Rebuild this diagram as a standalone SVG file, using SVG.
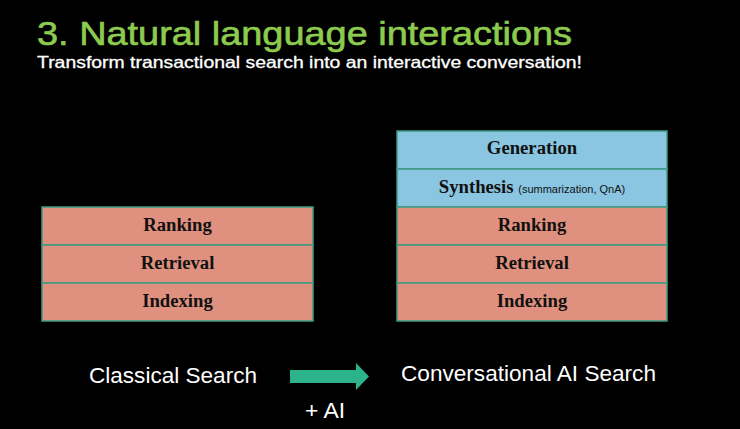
<svg xmlns="http://www.w3.org/2000/svg" width="740" height="429" viewBox="0 0 740 429">
<style>
.bg{fill:#000}
.red{fill:#E0907E;stroke:#3D9A85;stroke-width:1.5}
.blue{fill:#8AC5E2;stroke:#3D9A85;stroke-width:1.5}
.lbl{font-family:"Liberation Serif",serif;font-weight:bold;font-size:18.7px;fill:#111;text-anchor:middle}
.small{font-family:"Liberation Sans",sans-serif;font-weight:normal;font-size:11px}
.cap{font-family:"Liberation Sans",Arial,sans-serif;font-size:22.5px;fill:#fff}
</style>
<rect class="bg" x="0" y="0" width="740" height="429"/>
<text x="37" y="45" font-family="Liberation Sans, Arial, sans-serif" font-size="33" fill="#8DCB4F" stroke="#8DCB4F" stroke-width="0.6" textLength="535" lengthAdjust="spacingAndGlyphs">3. Natural language interactions</text>
<text x="37" y="68" font-family="Liberation Sans, Arial, sans-serif" font-size="16.5" fill="#fff" stroke="#fff" stroke-width="0.3" textLength="545" lengthAdjust="spacingAndGlyphs">Transform transactional search into an interactive conversation!</text>
<g id="classical">
<rect class="red" x="42" y="207" width="271" height="38"/>
<rect class="red" x="42" y="245" width="271" height="38"/>
<rect class="red" x="42" y="283" width="271" height="38"/>
<text class="lbl" x="177.5" y="231">Ranking</text>
<text class="lbl" x="177.5" y="269">Retrieval</text>
<text class="lbl" x="177.5" y="307">Indexing</text>
</g>
<g id="conversational">
<rect class="blue" x="397" y="131" width="270" height="38"/>
<rect class="blue" x="397" y="169" width="270" height="38"/>
<rect class="red" x="397" y="207" width="270" height="38"/>
<rect class="red" x="397" y="245" width="270" height="38"/>
<rect class="red" x="397" y="283" width="270" height="38"/>
<text class="lbl" x="532" y="154">Generation</text>
<text class="lbl" x="532" y="193">Synthesis <tspan class="small">(summarization, QnA)</tspan></text>
<text class="lbl" x="532" y="231">Ranking</text>
<text class="lbl" x="532" y="269">Retrieval</text>
<text class="lbl" x="532" y="307">Indexing</text>
</g>
<g id="connectors">
<polygon points="290,370 356,370 356,363 369,376.5 356,390 356,383 290,383" fill="#2DB38C"/>
</g>
<text class="cap" x="89" y="383" textLength="168" lengthAdjust="spacingAndGlyphs">Classical Search</text>
<text class="cap" x="401" y="381" textLength="255" lengthAdjust="spacingAndGlyphs">Conversational AI Search</text>
<text class="cap" x="305" y="418" textLength="40" lengthAdjust="spacingAndGlyphs">+ AI</text>
</svg>
